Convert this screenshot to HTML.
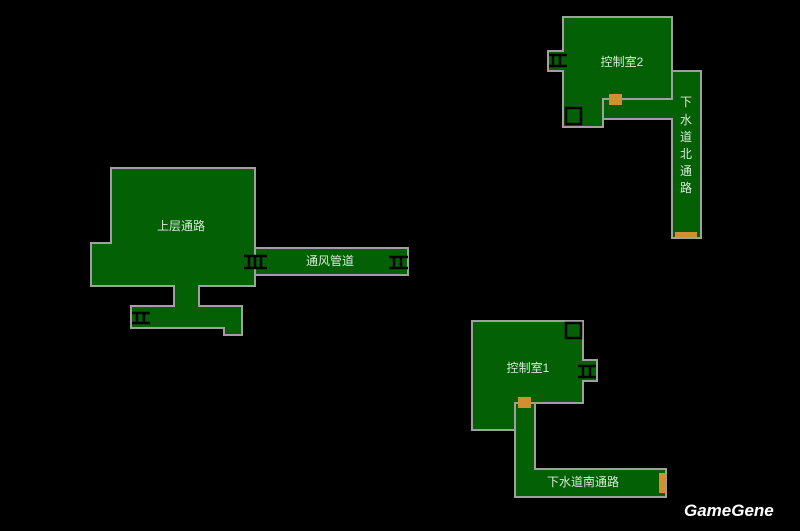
<!DOCTYPE html>
<html><head><meta charset="utf-8"><style>
html,body{margin:0;padding:0;background:#000;}
svg{display:block}
text{font-family:"Liberation Sans","Noto Sans CJK SC",sans-serif;fill:#d8e8d8;font-size:12px}
</style></head><body>
<svg width="800" height="531" viewBox="0 0 800 531" xmlns="http://www.w3.org/2000/svg">
<rect width="800" height="531" fill="#000"/>
<g fill="#046004" stroke="#a0a0a0" stroke-width="2">
<polygon points="672,71 701,71 701,238 672,238 672,119 603,119 603,99 672,99"/>
<polygon points="563,17 672,17 672,99 603,99 603,127 563,127 563,71 548,71 548,51 563,51"/>
<rect x="255" y="248" width="153" height="27"/>
<polygon points="111,168 255,168 255,286 199,286 199,306 242,306 242,335 224,335 224,328 131,328 131,306 174,306 174,286 91,286 91,243 111,243"/>
<polygon points="472,321 583,321 583,360 597,360 597,381 583,381 583,403 515,403 515,430 472,430"/>
<polygon points="515,403 535,403 535,469 666,469 666,497 515,497"/>
</g>
<g fill="#046004">
<rect x="175" y="284" width="23" height="24"/>
</g>
<g fill="#d09030">
<rect x="609" y="94" width="13" height="11"/>
<rect x="675" y="232" width="22" height="5"/>
<rect x="518" y="397" width="13" height="11"/>
<rect x="659" y="473" width="7" height="20"/>
</g>
<g fill="none" stroke="#000" stroke-width="2.5">
<rect x="566" y="108" width="15" height="16"/>
<rect x="566" y="323" width="15" height="15"/>
</g>
<g stroke="#000" stroke-width="2.5">
<line x1="549" y1="55" x2="567" y2="55"/><line x1="549" y1="66" x2="567" y2="66"/>
<line x1="553" y1="55" x2="553" y2="66"/><line x1="560" y1="55" x2="560" y2="66"/>
<line x1="244" y1="256" x2="267" y2="256"/><line x1="244" y1="268" x2="267" y2="268"/>
<line x1="249" y1="256" x2="249" y2="268"/><line x1="255" y1="256" x2="255" y2="268"/><line x1="261" y1="256" x2="261" y2="268"/>
<line x1="389" y1="257" x2="408" y2="257"/><line x1="389" y1="268" x2="408" y2="268"/>
<line x1="394" y1="257" x2="394" y2="268"/><line x1="401" y1="257" x2="401" y2="268"/>
<line x1="132" y1="313" x2="150" y2="313"/><line x1="132" y1="323" x2="150" y2="323"/>
<line x1="137" y1="313" x2="137" y2="323"/><line x1="144" y1="313" x2="144" y2="323"/>
<line x1="578" y1="366" x2="596" y2="366"/><line x1="578" y1="377" x2="596" y2="377"/>
<line x1="583" y1="366" x2="583" y2="377"/><line x1="590" y1="366" x2="590" y2="377"/>
</g>
<g text-anchor="middle">
<text x="622" y="66">控制室2</text>
<text x="686" y="106">下</text>
<text x="686" y="124">水</text>
<text x="686" y="141">道</text>
<text x="686" y="158">北</text>
<text x="686" y="175">通</text>
<text x="686" y="192">路</text>
<text x="181" y="230">上层通路</text>
<text x="330" y="265">通风管道</text>
<text x="528" y="372">控制室1</text>
<text x="583" y="486">下水道南通路</text>
</g>
<text x="684" y="516" style="font-family:'Liberation Sans',sans-serif;font-size:17px;font-weight:bold;font-style:italic;fill:#fff">GameGene</text>
</svg>
</body></html>
